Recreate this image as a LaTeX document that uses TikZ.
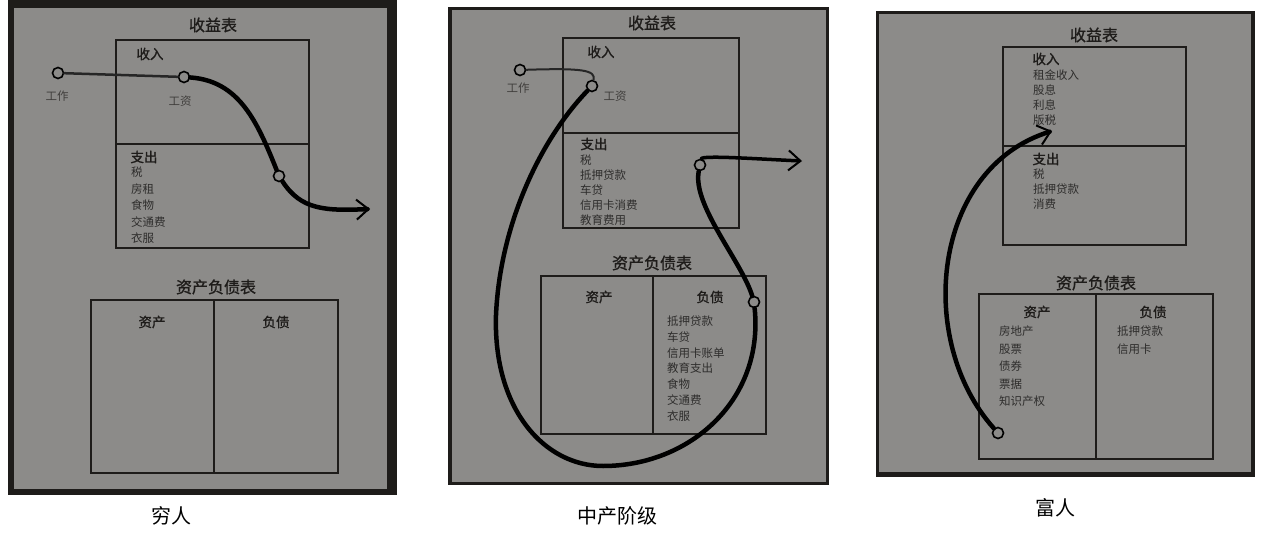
\documentclass[tikz,border=0pt]{standalone}
\usepackage{fontspec}
\newfontfamily\cjk{Noto Sans CJK SC}
\newfontfamily\cjkheavy[FakeBold=1.3]{Noto Sans CJK SC}
\usetikzlibrary{arrows.meta}
\definecolor{panelgray}{HTML}{8C8B89}
\definecolor{framedark}{HTML}{1E1C1A}
\definecolor{itemtext}{HTML}{2E2D2C}

\begin{document}
\begin{tikzpicture}
  [
  x=1pt, y=-1pt, font=\cjk,
  boxline/.style={draw=framedark, line width=2.5pt},
  title/.style={font=\cjkheavy\fontsize{16}{16}\selectfont, text=framedark},
  head/.style={font=\cjkheavy\fontsize{13.5}{14}\selectfont, text=framedark},
  item/.style={font=\cjk\fontsize{11.5}{12}\selectfont, text=itemtext, anchor=west, inner sep=0pt},
  caption/.style={font=\cjk\fontsize{20}{20}\selectfont, text=black},
  hole/.style={circle, draw=black, fill=panelgray, line width=1.6pt, inner sep=0pt, minimum size=11pt},
  brush/.style={draw=black, line width=4.5pt, line cap=round},
  thinbrush/.style={draw=black!85, line width=2.5pt, line cap=round},
  tip/.style={-{Straight Barb[length=12pt, width=20pt, line width=2pt]}}
  ]

\useasboundingbox[fill=white] (0,0) rectangle (1264,535);

% poor
\fill[framedark] (8,0) rectangle (397,495);
\fill[panelgray] (14,8) rectangle (387,489);
\node[title] (pis) at (213,25) {收益表};
\draw[boxline] (116,40) rectangle (309,248);
\draw[boxline] (116,144) -- (309,144);
\node[head] (pin) at (150,54) {收入};
\node[head] (pout) at (144,157) {支出};
\foreach \t [count=\i] in {税,房租,食物,交通费,衣服} {
  \node[item] (pe\i) at (131,156+16.4*\i) {\t};
}
\node[title] (pbs) at (216,287) {资产负债表};
\draw[boxline] (91,300) rectangle (338,473);
\draw[boxline] (214,300) -- (214,473);
\node[head] (passet) at (152,322) {资产};
\node[head] (pliab) at (276,322) {负债};
\node[caption] (pcap) at (171,516) {穷人};

\node[hole] (pwork) at (58,73) {};
\node[item, text=framedark!85, anchor=center] at (57,96) {工作};
\node[hole] (pwage) at (184,77) {};
\node[item, text=framedark!85, anchor=center] at (180,101) {工资};
\node[hole] (pspend) at (279,176) {};
\coordinate (pend) at (370,209);
\draw[thinbrush] (pwork) -- (pwage);
\draw[brush] (pwage) .. controls +(55,4) and +(-22,-55) .. (pspend);
\draw[brush, tip] (pspend) .. controls +(22,34) and +(-45,2) .. (pend);

% middle class
\fill[framedark] (448,7) rectangle (829,485);
\fill[panelgray] (452,10) rectangle (826,482);
\node[title] (mis) at (652,23) {收益表};
\draw[boxline] (563,38) rectangle (739,228);
\draw[boxline] (563,133) -- (739,133);
\node[head] (min) at (601,52) {收入};
\node[head] (mout) at (594,144) {支出};
\foreach \t [count=\i] in {税,抵押贷款,车贷,信用卡消费,教育费用} {
  \node[item] (me\i) at (580,145+15*\i) {\t};
}
\node[title] (mbs) at (652,263) {资产负债表};
\draw[boxline] (541,276) rectangle (766,434);
\draw[boxline] (653,276) -- (653,434);
\node[head] (masset) at (599,297) {资产};
\node[head] (mliab) at (710,297) {负债};
\foreach \t [count=\i] in {抵押贷款,车贷,信用卡账单,教育支出,食物,交通费,衣服} {
  \node[item] (ml\i) at (667,305+15.9*\i) {\t};
}
\node[caption] (mcap) at (617,516) {中产阶级};

\node[hole] (mwork) at (520,70) {};
\node[item, text=framedark!85, anchor=center] at (518,88) {工作};
\node[hole] (mwage) at (592,86) {};
\node[item, text=framedark!85, anchor=center] at (615,96) {工资};
\node[hole] (mspend) at (700,165) {};
\node[hole] (mdebt) at (754,302) {};
\coordinate (mleft) at (496,315);
\coordinate (mbottom) at (603,466);
\coordinate (mend) at (802,161);
\draw[thinbrush, line width=2pt] (mwork) .. controls +(62,-2) and +(4,-16) .. (mwage);
\draw[brush] (mwage) .. controls +(-52,54) and (500,225) .. (mleft)
  .. controls (493,410) and (545,466) .. (mbottom)
  .. controls (690,466) and (764,400) .. (mdebt);
\draw[brush] (mdebt) .. controls +(-12,-40) and +(-8,40) .. (mspend);
\draw[brush, line width=3.5pt, tip] (mspend) .. controls +(2,-10) and +(-45,-2) .. (mend);

% rich
\fill[framedark] (876,11) rectangle (1255,477);
\fill[panelgray] (879,14) rectangle (1251,472);
\node[title] (ris) at (1094,35) {收益表};
\draw[boxline] (1003,47) rectangle (1186,245);
\draw[boxline] (1003,146) -- (1186,146);
\node[head] (rin) at (1046,59) {收入};
\foreach \t [count=\i] in {租金收入,股息,利息,版税} {
  \node[item] (ri\i) at (1033,60+15*\i) {\t};
}
\node[head] (rout) at (1046,159) {支出};
\foreach \t [count=\i] in {税,抵押贷款,消费} {
  \node[item] (re\i) at (1033,159+15*\i) {\t};
}
\node[title] (rbs) at (1096,283) {资产负债表};
\draw[boxline] (979,294) rectangle (1213,459);
\draw[boxline] (1096,294) -- (1096,459);
\node[head] (rasset) at (1037,312) {资产};
\node[head] (rliab) at (1153,312) {负债};
\foreach \t [count=\i] in {房地产,股票,债券,票据,知识产权} {
  \node[item] (ra\i) at (999,314+17.5*\i) {\t};
}
\foreach \t [count=\i] in {抵押贷款,信用卡} {
  \node[item] (rl\i) at (1117,314+17.5*\i) {\t};
}
\node[caption] (rcap) at (1055,508) {富人};

\node[hole] (rsource) at (998,433) {};
\coordinate (rend) at (1052,131);
\draw[brush, tip] (rsource) .. controls (915,340) and (932,168) .. (rend);

\end{tikzpicture}
\end{document}
